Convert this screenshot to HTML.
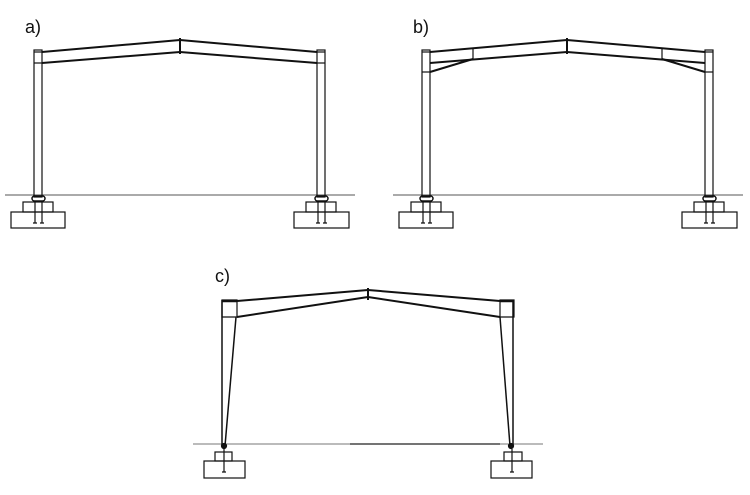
<!DOCTYPE html>
<html><head><meta charset="utf-8"><style>
html,body{margin:0;padding:0;background:#fff;}
svg{display:block;}
text{font-family:"Liberation Sans",sans-serif;font-size:18px;fill:#111;}
</style></head><body>
<svg width="750" height="495" viewBox="0 0 750 495" xmlns="http://www.w3.org/2000/svg" fill="none" stroke="#111" stroke-width="1.2">
<text x="25" y="33" stroke="none">a)</text>
<text x="413" y="33" stroke="none">b)</text>
<text x="215" y="282" stroke="none">c)</text>

<!-- Frame a -->
<g>
<line x1="5" y1="195" x2="355" y2="195" stroke="#555" stroke-width="1"/>
<rect x="34" y="50" width="8" height="147"/>
<line x1="34" y1="52" x2="42" y2="52"/><line x1="34" y1="63" x2="42" y2="63"/>
<line x1="42" y1="52" x2="180" y2="40" stroke-width="2"/>
<line x1="42" y1="63" x2="180" y2="52" stroke-width="2"/>
<line x1="180" y1="40" x2="317" y2="52" stroke-width="2"/>
<line x1="180" y1="52" x2="317" y2="63" stroke-width="2"/>
<line x1="180" y1="38" x2="180" y2="54" stroke-width="2"/>
<rect x="317" y="50" width="8" height="147"/>
<line x1="317" y1="52" x2="325" y2="52"/><line x1="317" y1="63" x2="325" y2="63"/>
<!-- bases -->
<rect x="32" y="196" width="13" height="5" rx="2.5" stroke-width="1.5"/>
<rect x="23" y="202" width="30" height="10"/>
<rect x="11" y="212" width="54" height="16"/>
<path d="M35 201V223M42 201V223M33 223h4M40 223h4"/>
<rect x="315" y="196" width="13" height="5" rx="2.5" stroke-width="1.5"/>
<rect x="306" y="202" width="30" height="10"/>
<rect x="294" y="212" width="55" height="16"/>
<path d="M318 201V223M325 201V223M316 223h4M323 223h4"/>
</g>

<!-- Frame b -->
<g>
<line x1="393" y1="195" x2="743" y2="195" stroke="#555" stroke-width="1"/>
<rect x="422" y="50" width="8" height="147"/>
<line x1="422" y1="52" x2="430" y2="52"/><line x1="422" y1="72" x2="430" y2="72"/>
<line x1="430" y1="52" x2="567" y2="40" stroke-width="2"/>
<line x1="430" y1="63" x2="567" y2="52" stroke-width="2"/>
<line x1="430" y1="72" x2="473" y2="59" stroke-width="2"/>
<line x1="473" y1="48" x2="473" y2="59"/>
<line x1="567" y1="40" x2="705" y2="52" stroke-width="2"/>
<line x1="567" y1="52" x2="705" y2="63" stroke-width="2"/>
<line x1="705" y1="72" x2="662" y2="59" stroke-width="2"/>
<line x1="662" y1="48" x2="662" y2="59"/>
<line x1="567" y1="38" x2="567" y2="54" stroke-width="2"/>
<rect x="705" y="50" width="8" height="147"/>
<line x1="705" y1="52" x2="713" y2="52"/><line x1="705" y1="72" x2="713" y2="72"/>
<rect x="420" y="196" width="13" height="5" rx="2.5" stroke-width="1.5"/>
<rect x="411" y="202" width="30" height="10"/>
<rect x="399" y="212" width="54" height="16"/>
<path d="M423 201V223M430 201V223M421 223h4M428 223h4"/>
<rect x="703" y="196" width="13" height="5" rx="2.5" stroke-width="1.5"/>
<rect x="694" y="202" width="30" height="10"/>
<rect x="682" y="212" width="55" height="16"/>
<path d="M706 201V223M713 201V223M704 223h4M711 223h4"/>
</g>

<!-- Frame c -->
<g>
<line x1="193" y1="444" x2="543" y2="444" stroke="#777" stroke-width="1"/>
<line x1="350" y1="444" x2="500" y2="444" stroke="#222" stroke-width="1.2"/>
<path d="M222 300H237V317H222Z" />
<line x1="222" y1="301" x2="237" y2="301" stroke-width="2.5"/>
<line x1="222" y1="300" x2="222" y2="446" stroke-width="1.5"/>
<line x1="236" y1="317" x2="225" y2="446" stroke-width="1.5"/>
<line x1="237" y1="301" x2="368" y2="290" stroke-width="2"/>
<line x1="237" y1="317" x2="368" y2="297" stroke-width="2"/>
<line x1="368" y1="290" x2="500" y2="301" stroke-width="2"/>
<line x1="368" y1="297" x2="500" y2="317" stroke-width="2"/>
<line x1="368" y1="288" x2="368" y2="300" stroke-width="2"/>
<path d="M500 300H514V317H500Z"/>
<line x1="500" y1="301" x2="514" y2="301" stroke-width="2.5"/>
<line x1="513" y1="300" x2="513" y2="446" stroke-width="1.5"/>
<line x1="500" y1="317" x2="510" y2="446" stroke-width="1.5"/>
<circle cx="224" cy="446" r="2.5" fill="#111"/>
<circle cx="511" cy="446" r="2.5" fill="#111"/>
<rect x="215" y="452" width="17" height="9"/>
<rect x="204" y="461" width="41" height="17"/>
<path d="M224 449V472M222 472h4"/>
<rect x="504" y="452" width="18" height="9"/>
<rect x="491" y="461" width="41" height="17"/>
<path d="M512 449V472M510 472h4"/>
</g>
</svg>
</body></html>
